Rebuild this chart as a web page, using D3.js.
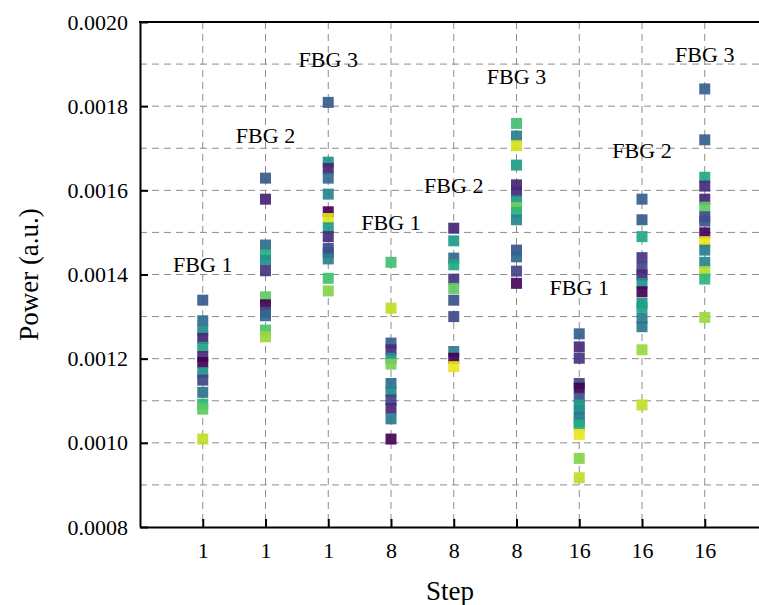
<!DOCTYPE html>
<html>
<head>
<meta charset="utf-8">
<script src="https://cdn.jsdelivr.net/npm/d3@7"></script>
<style>
  body { margin: 0; background: #fff; }
  svg text { font-family: "Liberation Serif", "Times New Roman", Times, serif !important; fill: #000; }
</style>
</head>
<body>
<div id="chart"></div>
<script>
// Data
const steps = ["1", "1", "1", "8", "8", "8", "16", "16", "16"];
const fbgLabels = ["FBG 1", "FBG 2", "FBG 3", "FBG 1", "FBG 2", "FBG 3", "FBG 1", "FBG 2", "FBG 3"];
const labelLevels = [0.001405, 0.001713, 0.001892, 0.001506, 0.001594, 0.001852, 0.001351, 0.001678, 0.001906];

const powerValues = [
  [0.001339, 0.00129, 0.001268, 0.001248, 0.001227, 0.001205, 0.001191, 0.001167, 0.001149, 0.00112, 0.001092, 0.00108, 0.001009],
  [0.001629, 0.001579, 0.00147, 0.001447, 0.001433, 0.001409, 0.001347, 0.001328, 0.00131, 0.001302, 0.001268, 0.001252],
  [0.001809, 0.001667, 0.001652, 0.001629, 0.001591, 0.001549, 0.001533, 0.001511, 0.00149, 0.001462, 0.001452, 0.001437, 0.001391, 0.001361],
  [0.001429, 0.00132, 0.001237, 0.001221, 0.001201, 0.001187, 0.001141, 0.001122, 0.001102, 0.001082, 0.001057, 0.001009],
  [0.00151, 0.00148, 0.001439, 0.001423, 0.001389, 0.001367, 0.001339, 0.0013, 0.001217, 0.001201, 0.001181],
  [0.001759, 0.001729, 0.001706, 0.00166, 0.001613, 0.001597, 0.001575, 0.001559, 0.001548, 0.00153, 0.001458, 0.001442, 0.001408, 0.001379],
  [0.001259, 0.001228, 0.001201, 0.001141, 0.00113, 0.001106, 0.00109, 0.001078, 0.001062, 0.00105, 0.001042, 0.00102, 0.000963, 0.000917],
  [0.001579, 0.00153, 0.00149, 0.00144, 0.001415, 0.001399, 0.001379, 0.001359, 0.001332, 0.001322, 0.001296, 0.001276, 0.001221, 0.00109],
  [0.001841, 0.00172, 0.001631, 0.00161, 0.001579, 0.00156, 0.001537, 0.001527, 0.001499, 0.001478, 0.001458, 0.001429, 0.001407, 0.001389, 0.001298]
];

// colormap value of each point (viridis)
const shadeValues = [
  [0.28, 0.35, 0.48, 0.1, 0.58, 0.12, 0.0, 0.5, 0.2, 0.38, 0.65, 0.75, 0.9],
  [0.28, 0.1, 0.35, 0.62, 0.5, 0.15, 0.75, 0.0, 0.25, 0.33, 0.72, 0.85],
  [0.28, 0.5, 0.1, 0.35, 0.45, 0.0, 0.95, 0.55, 0.12, 0.22, 0.25, 0.42, 0.7, 0.82],
  [0.7, 0.9, 0.3, 0.12, 0.5, 0.8, 0.35, 0.47, 0.2, 0.12, 0.4, 0.0],
  [0.1, 0.55, 0.33, 0.6, 0.15, 0.75, 0.25, 0.22, 0.42, 0.0, 0.97],
  [0.7, 0.42, 0.93, 0.55, 0.1, 0.12, 0.52, 0.78, 0.65, 0.45, 0.25, 0.33, 0.2, 0.02],
  [0.3, 0.12, 0.15, 0.2, 0.0, 0.25, 0.55, 0.5, 0.4, 0.45, 0.62, 0.97, 0.82, 0.9],
  [0.3, 0.28, 0.6, 0.15, 0.22, 0.12, 0.5, 0.0, 0.52, 0.56, 0.42, 0.4, 0.85, 0.9],
  [0.3, 0.3, 0.6, 0.12, 0.1, 0.75, 0.22, 0.25, 0.0, 0.97, 0.42, 0.45, 0.88, 0.65, 0.85]
];

const yTicks = [0.0008, 0.0010, 0.0012, 0.0014, 0.0016, 0.0018, 0.0020];
const yGrid = d3.range(9, 21).map(d => d / 10000);

// Layout
const width = 759, height = 605;
const margin = { top: 22, left: 140, bottom: 78 };
const unit = 62.75;  // spacing between steps
const markerSize = 11;
const serif = '"Liberation Serif", "Times New Roman", Times, serif';

const svg = d3.select("#chart").append("svg")
  .attr("width", width)
  .attr("height", height)
  .style("font-family", serif);

const x = d3.scaleLinear()
  .domain([0, steps.length + 1])
  .range([margin.left, margin.left + unit * (steps.length + 1)]);

const y = d3.scaleLinear()
  .domain([0.0008, 0.0020])
  .range([height - margin.bottom, margin.top]);

const color = d3.scaleSequential(d3.interpolateViridis).domain([0, 1]);

// Grid
const grid = svg.append("g")
  .attr("stroke", "#8c8c8c")
  .attr("stroke-width", 1)
  .attr("stroke-dasharray", "7,5");

grid.selectAll(".hgrid")
  .data(yGrid)
  .join("line")
  .attr("x1", x(0)).attr("x2", width)
  .attr("y1", d => y(d)).attr("y2", d => y(d));

grid.selectAll(".vgrid")
  .data(steps)
  .join("line")
  .attr("x1", (d, i) => x(i + 1)).attr("x2", (d, i) => x(i + 1))
  .attr("y1", y(0.0020)).attr("y2", y(0.0008));

// Points
const points = powerValues.flatMap((col, i) =>
  col.map((v, j) => ({ i, v, s: shadeValues[i][j] })));

svg.append("g")
  .selectAll("rect")
  .data(points)
  .join("rect")
  .attr("x", d => x(d.i + 1) - markerSize / 2)
  .attr("y", d => y(d.v) - markerSize / 2)
  .attr("width", markerSize)
  .attr("height", markerSize)
  .attr("fill", d => color(d.s))
  .attr("fill-opacity", 0.92);

// Axes
const xAxis = svg.append("g")
  .attr("transform", `translate(0,${y(0.0008)})`)
  .call(d3.axisBottom(x)
    .tickValues(d3.range(1, steps.length + 1))
    .tickFormat(d => steps[d - 1])
    .tickSizeInner(-8)
    .tickSizeOuter(0)
    .tickPadding(15));

const yAxis = svg.append("g")
  .attr("transform", `translate(${x(0)},0)`)
  .call(d3.axisLeft(y)
    .tickValues(yTicks)
    .tickFormat(d3.format(".4f"))
    .tickSizeInner(-8)
    .tickSizeOuter(0)
    .tickPadding(12));

[xAxis, yAxis].forEach(ax => {
  ax.attr("font-family", null).style("font-family", serif);
  ax.select(".domain").attr("stroke", "#000").attr("stroke-width", 2);
  ax.selectAll(".tick line").attr("stroke", "#000").attr("stroke-width", 2);
  ax.selectAll(".tick text").attr("font-size", 22).style("font-family", serif);
});

// top spine
svg.append("line")
  .attr("x1", x(0) - 1).attr("x2", width)
  .attr("y1", y(0.0020)).attr("y2", y(0.0020))
  .attr("stroke", "#000").attr("stroke-width", 2);

// FBG labels
svg.append("g")
  .selectAll("text")
  .data(fbgLabels)
  .join("text")
  .attr("x", (d, i) => x(i + 1))
  .attr("y", (d, i) => y(labelLevels[i]))
  .attr("text-anchor", "middle")
  .attr("font-size", 22)
  .text(d => d);

// Axis titles
svg.append("text")
  .attr("x", 450).attr("y", 600)
  .attr("text-anchor", "middle")
  .attr("font-size", 27)
  .text("Step");

svg.append("text")
  .attr("transform", `translate(38,${(y(0.0008) + y(0.0020)) / 2}) rotate(-90)`)
  .attr("text-anchor", "middle")
  .attr("font-size", 27)
  .text("Power (a.u.)");
</script>
</body>
</html>
